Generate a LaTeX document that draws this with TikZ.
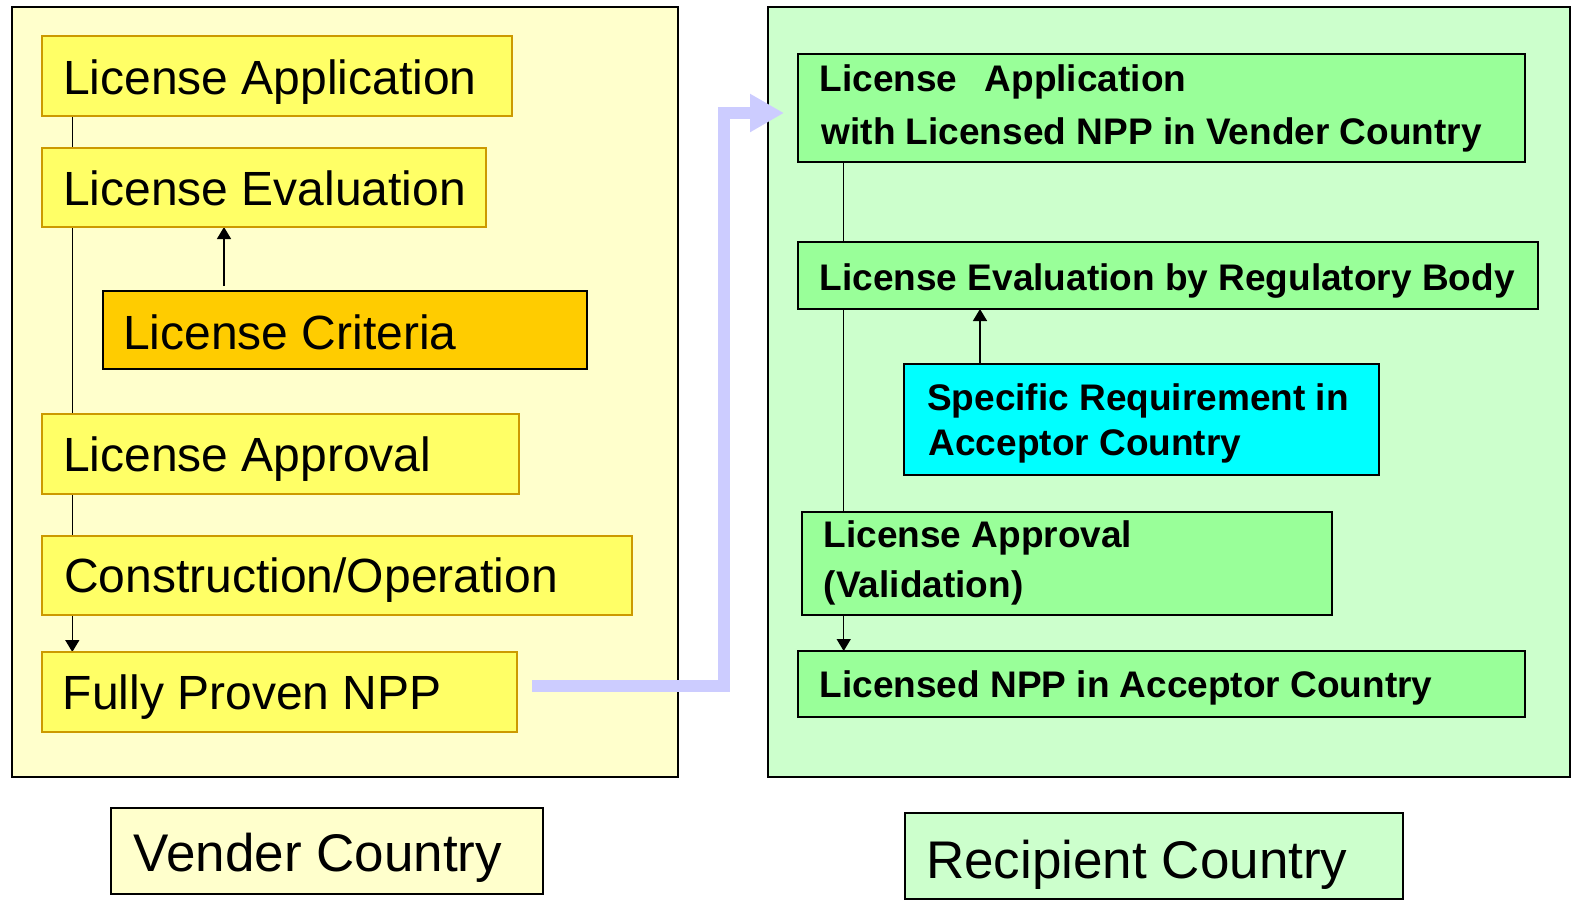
\documentclass[tikz,border=0pt]{standalone}
\usepackage{fontspec}
\setmainfont{Liberation Sans}
\usetikzlibrary{arrows.meta}

\definecolor{vpanel}{HTML}{FFFFCC}
\definecolor{vfill}{HTML}{FFFF66}
\definecolor{vedge}{HTML}{CC9900}
\definecolor{critfill}{HTML}{FFCC00}
\definecolor{rpanel}{HTML}{CCFFCC}
\definecolor{rfill}{HTML}{99FF99}
\definecolor{reqfill}{HTML}{00FFFF}
\definecolor{flowblue}{HTML}{CCCCFF}

\pgfdeclarelayer{panels}
\pgfdeclarelayer{links}
\pgfsetlayers{panels,links,main}

\begin{document}
\begin{tikzpicture}[x=1pt,y=-1pt,
  cornerbox/.style={rectangle, anchor=north west, inner sep=0pt, outer sep=0pt},
  panelbox/.style={cornerbox, draw=black, line width=2.2pt},
  vstepbox/.style={cornerbox, draw=vedge, fill=vfill, line width=1.8pt},
  critbox/.style={cornerbox, draw=black, fill=critfill, line width=2pt},
  rstepbox/.style={cornerbox, draw=black, fill=rfill, line width=2pt},
  reqbox/.style={cornerbox, draw=black, fill=reqfill, line width=2pt},
  tagbox/.style={cornerbox, draw=black, line width=2pt},
  vtext/.style={anchor=base west, inner sep=0pt, font=\fontsize{48}{58}\selectfont},
  rtext/.style={anchor=base west, inner sep=0pt, font=\bfseries\fontsize{37}{44}\selectfont},
  tagtext/.style={anchor=base west, inner sep=0pt, font=\fontsize{53}{62}\selectfont},
  link/.style={draw=black, line width=1.5pt},
  linkarrow/.style={link, -{Triangle[length=12pt,width=14pt]}},
  flow/.style={draw=flowblue, line width=12pt, miter limit=10,
    -{Triangle[length=34pt,width=36pt]}}
]
\useasboundingbox (0,0) rectangle (1573,906);

% country panels
\begin{pgfonlayer}{panels}
  \node[panelbox, fill=vpanel, minimum width=666, minimum height=770] (vpan) at (12,7) {};
  \node[panelbox, fill=rpanel, minimum width=802, minimum height=770] (rpan) at (768,7) {};
\end{pgfonlayer}

% vender country steps
\node[vstepbox, minimum width=470, minimum height=80] (la) at (42,36) {};
\node[vstepbox, minimum width=444, minimum height=79] (le) at (42,148) {};
\node[critbox,  minimum width=484, minimum height=78] (crit) at (103,291) {};
\node[vstepbox, minimum width=477, minimum height=80] (lap) at (42,414) {};
\node[vstepbox, minimum width=590, minimum height=79] (con) at (42,536) {};
\node[vstepbox, minimum width=475, minimum height=80] (npp) at (42,652) {};

\node[vtext] (la-t)   at (63,94)    {License Application};
\node[vtext] (le-t)   at (63,205)   {License Evaluation};
\node[vtext] (crit-t) at (123,349)  {License Criteria};
\node[vtext] (lap-t)  at (63,471.7) {License Approval};
\node[vtext] (con-t)  at (64,592.7) {Construction/Operation};
\node[vtext] (npp-t)  at (62.5,709.3) {Fully Proven NPP};

% recipient country steps
\node[rstepbox, minimum width=727, minimum height=108] (r1) at (798,54) {};
\node[rstepbox, minimum width=740, minimum height=67]  (r2) at (798,242) {};
\node[reqbox,   minimum width=475, minimum height=111] (req) at (904,364) {};
\node[rstepbox, minimum width=530, minimum height=103] (r4) at (802,512) {};
\node[rstepbox, minimum width=727, minimum height=66]  (r5) at (798,651) {};

\node[rtext] (r1-a)  at (819.5,91)    {License \hspace{17pt}Application};
\node[rtext] (r1-b)  at (821.5,144.3) {with Licensed NPP in Vender Country};
\node[rtext] (r2-t)  at (819.5,290)   {License Evaluation by Regulatory Body};
\node[rtext] (req-a) at (927,410.7)   {Specific Requirement in};
\node[rtext] (req-b) at (928.5,455)   {Acceptor Country};
\node[rtext] (r4-a)  at (823.5,547.7) {License Approval};
\node[rtext] (r4-b)  at (823.7,597.7) {(Validation)};
\node[rtext] (r5-t)  at (819.5,697.3) {Licensed NPP in Acceptor Country};

% country tags
\node[tagbox, fill=vpanel, minimum width=432, minimum height=86] (vtag) at (111,808) {};
\node[tagbox, fill=rpanel, minimum width=498, minimum height=86] (rtag) at (905,813) {};
\node[tagtext] (vtag-t) at (133.5,871) {Vender Country};
\node[tagtext] (rtag-t) at (926,878) {Recipient Country};

% flow lines behind the boxes
\coordinate (lx) at (72.3,0);
\coordinate (cx) at (224,0);
\coordinate (rx) at (843.7,0);
\coordinate (qx) at (980,0);
\begin{pgfonlayer}{links}
  \draw[linkarrow] (la.south -| lx) -- (npp.north -| lx);
  \draw[linkarrow, shorten <=5pt] (crit.north -| cx) -- (le.south -| cx);
  \draw[linkarrow] (r1.south -| rx) -- (r5.north -| rx);
  \draw[linkarrow] (req.north -| qx) -- (r2.south -| qx);
\end{pgfonlayer}

% transfer of the proven design to the recipient country
\coordinate (fstart) at (532,686);
\coordinate (fturn) at (724,113);
\coordinate (fend) at (784,113);
\draw[flow] (fstart) -| (fturn) -- (fend);
\end{tikzpicture}
\end{document}
